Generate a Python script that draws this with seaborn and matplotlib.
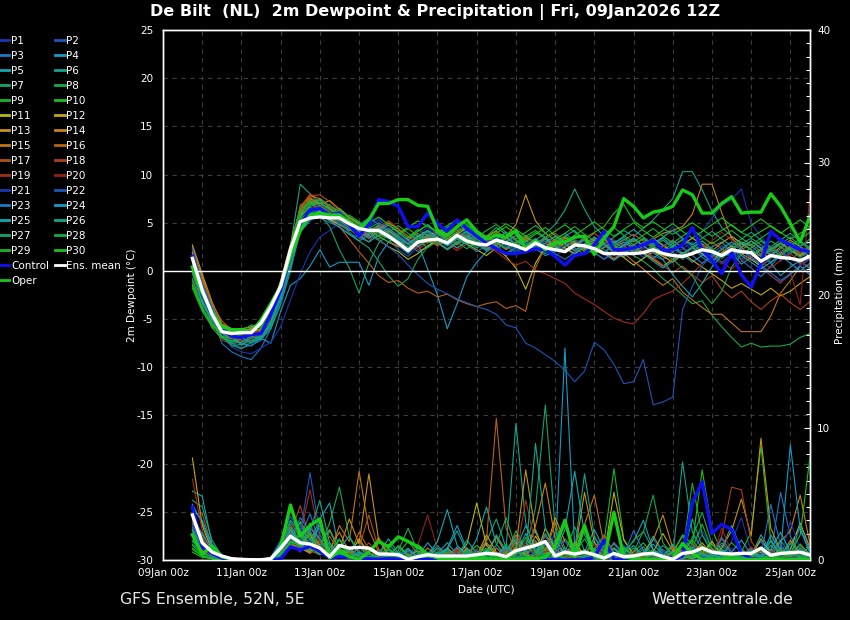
import matplotlib
matplotlib.use("Agg")
import matplotlib.pyplot as plt
from matplotlib.lines import Line2D
from matplotlib.ticker import MultipleLocator
import seaborn as sns
import pandas as pd

plt.rcParams['font.family'] = ['DejaVu Sans']
plt.rcParams['axes.unicode_minus'] = False

# ---------------- data ----------------
hours = [18, 24, 30, 36, 42, 48, 54, 60,
         66, 72, 78, 84, 90, 96, 102, 108,
         114, 120, 126, 132, 138, 144, 150, 156,
         162, 168, 174, 180, 186, 192, 198, 204,
         210, 216, 222, 228, 234, 240, 246, 252,
         258, 264, 270, 276, 282, 288, 294, 300,
         306, 312, 318, 324, 330, 336, 342, 348,
         354, 360, 366, 372, 378, 384, 390, 396]

tick_hours = [0, 24, 48, 72, 96, 120, 144, 168, 192, 216, 240, 264, 288, 312, 336, 360, 384]
tick_labels = ["09Jan 00z", "", "11Jan 00z", "", "13Jan 00z", "", "15Jan 00z", "",
               "17Jan 00z", "", "19Jan 00z", "", "21Jan 00z", "", "23Jan 00z", "", "25Jan 00z"]

member_names = ["P1", "P2", "P3", "P4", "P5", "P6", "P7", "P8", "P9", "P10",
                "P11", "P12", "P13", "P14", "P15", "P16", "P17", "P18", "P19", "P20",
                "P21", "P22", "P23", "P24", "P25", "P26", "P27", "P28", "P29", "P30"]
member_colors = ['#1b34b4', '#1b56bc', '#1b78c4', '#149cc8', '#12a8b2', '#12a48c', '#12a468', '#14aa46', '#16b628', '#18c218',
                 '#b8b814', '#c2a614', '#c49414', '#c48414', '#c07414', '#ba6214', '#b25014', '#ae3e18', '#a42c18', '#942018',
                 '#1b34b4', '#1b56bc', '#1b78c4', '#149cc8', '#12a8b2', '#12a48c', '#12a468', '#14aa46', '#16b628', '#18c218']

# 2m dewpoint (deg C), 6-hourly
dew_p01 = [2.0, -1.5, -4.2, -6.0, -6.8, -7.0, -6.5, -6.2, -4.5, -1.8, 1.5, 5.5,
           6.5, 6.8, 6.0, 5.2, 4.5, 3.8, 4.9, 5.5, 4.1, 3.0, 2.4, 3.5, 4.2, 3.8, 2.6, 3.9, 3.3, 2.5, 2.9,
           3.8, 3.0, 2.2, 2.6, 3.4, 2.0, 1.5, 2.4, 3.1, 2.8, 1.9, 1.2, 2.3, 3.0, 2.1, 1.4, 2.9, 3.5, 4.6, 3.2,
           2.0, 4.1, 5.5, 6.8, 7.4, 8.5, 4.9, 3.6, 2.2, 1.0, 1.8, 2.5, 1.9]
dew_p02 = [1.0, -2.4, -4.5, -6.2, -7.2, -6.8, -7.0, -6.6, -5.5, -3.0, 0.2, 4.0,
           5.2, 5.9, 6.3, 5.8, 5.0, 3.9, 3.4, 3.9, 3.3, 2.2, 1.5, 2.6, 3.0, 2.8, 3.4, 4.2, 3.6, 3.0, 2.4,
           2.9, 3.5, 2.8, 2.0, 2.5, 3.1, 2.7, 1.9, 2.4, 3.3, 2.9, 2.2, 1.6, 2.0, 2.6, 2.3, 1.5, 1.2, 2.0, 2.8,
           3.4, 2.6, 1.8, 0.9, 1.6, 2.4, 1.3, 0.4, -0.5, -1.2, -0.4, 0.6, 1.2]
dew_p03 = [2.6, -1.0, -4.8, -7.5, -8.4, -8.9, -9.2, -8.0, -6.0, -3.2, 1.0, 5.0,
           6.0, 5.5, 5.0, 4.6, 3.8, 3.5, 3.0, 4.5, 3.8, 3.2, 2.8, 2.0, 2.5, 3.1, 3.9, 4.4, 3.7, 3.2, 3.5,
           3.0, 2.4, 2.9, 3.6, 2.7, 2.1, 2.8, 2.3, 1.7, 2.5, 3.2, 2.6, 1.9, 1.5, 2.2, 3.0, 2.4, 1.8, 2.6, 3.3,
           2.5, 1.4, 0.8, 1.9, 2.7, 1.1, 0.3, -0.6, 0.5, 1.7, 2.4, 1.5, 2.2]
dew_p04 = [1.8, -1.8, -4.5, -6.4, -7.2, -7.5, -7.8, -7.0, -7.5, -4.2, -1.5, -0.8,
           0.5, 2.2, 0.4, 0.9, 0.9, 0.9, -1.5, 1.5, 3.0, 2.6, 1.8, 2.9, 0.2, -2.5, -6.0, -3.4, -0.6, 0.9, 2.0,
           2.6, 1.8, 2.5, 3.2, 2.3, 1.6, 2.0, 3.6, 4.2, 3.1, 2.4, 1.9, 2.8, 3.5, 2.7, 1.8, 1.3, 2.1, 2.9, 1.7,
           0.9, 1.6, 2.5, 3.0, 1.9, 0.7, 1.4, 2.2, 0.8, -0.5, 0.4, 1.1, 0.2]
dew_p05 = [1.5, -2.6, -4.1, -5.6, -6.0, -6.4, -5.9, -5.5, -4.2, -1.6, 2.0, 6.2,
           7.0, 7.5, 6.8, 6.2, 5.5, 4.8, 4.3, 4.6, 3.5, 2.7, 3.4, 4.1, 4.8, 3.9, 4.5, 5.1, 4.0, 3.4, 2.6,
           3.3, 4.0, 3.1, 2.5, 3.2, 2.8, 3.6, 2.9, 2.1, 2.6, 3.5, 2.9, 2.3, 3.0, 2.4, 1.9, 2.7, 3.4, 2.6, 1.8,
           2.4, 3.1, 2.2, 1.5, 2.3, 3.0, 2.6, 1.7, 2.3, 2.9, 2.1, 1.6, 2.5]
dew_p06 = [0.5, -3.0, -5.2, -6.8, -7.3, -7.0, -6.8, -6.9, -5.8, -2.6, 2.5, 9.0,
           8.0, 7.0, 6.4, 5.9, 4.6, 3.7, 4.4, 5.0, 4.2, 3.3, 2.9, 3.7, 3.1, 2.8, 3.6, 4.6, 3.9, 3.0, 3.6,
           4.5, 3.8, 3.2, 2.4, 3.0, 2.6, 3.3, 3.9, 3.1, 2.4, 2.0, 2.8, 3.5, 4.2, 3.6, 4.4, 5.3, 6.4, 7.5, 10.3,
           10.3, 8.4, 6.2, 4.5, 3.6, 2.8, 3.4, 2.7, 2.0, 2.8, 3.5, 2.6, 3.0]
dew_p07 = [1.2, -2.2, -4.6, -6.5, -7.8, -7.6, -7.0, -6.7, -5.1, -2.0, 0.8, 5.6,
           6.8, 7.3, 5.8, 5.1, 4.0, 3.1, 2.4, 1.0, -0.5, -1.6, -0.8, 1.2, 2.5, 3.4, 2.9, 3.6, 4.1, 3.5, 2.8,
           2.2, 1.6, 2.4, 3.1, 2.5, 1.8, 2.6, 3.2, 2.4, 1.7, 2.3, 2.9, 2.2, 1.5, 2.1, 2.8, 3.4, 2.6, 1.9, 1.2,
           2.0, 2.7, 1.9, 1.3, 2.1, 2.8, 2.2, 1.5, 0.9, 1.8, 2.5, 1.7, 2.4]
dew_p08 = [0.0, -3.2, -5.4, -6.9, -7.4, -7.1, -6.6, -6.8, -5.3, -2.3, 1.2, 5.2,
           6.2, 6.5, 5.6, 5.0, 4.3, 3.6, 4.0, 4.8, 3.9, 3.1, 2.5, 3.3, 4.0, 3.2, 2.6, 3.4, 3.0, 2.4, 2.9,
           3.5, 2.8, 2.1, 2.6, 3.3, 2.7, 2.0, 2.5, 3.1, 2.4, 1.8, 2.4, 3.0, 2.3, 1.6, 1.0, 0.2, -0.8, -1.6, -2.5,
           -3.4, -3.1, -4.6, -5.8, -6.9, -7.9, -7.5, -7.9, -7.8, -7.8, -7.6, -6.9, -6.5]
dew_p09 = [-0.8, -3.5, -5.0, -6.3, -6.2, -6.0, -6.1, -5.7, -4.0, -1.2, 2.3, 5.8,
           6.6, 6.0, 6.9, 5.7, 5.3, 4.6, 3.9, 4.4, 3.6, 2.8, 3.5, 4.3, 3.7, 3.1, 3.8, 4.2, 3.5, 2.9, 3.3,
           3.9, 3.2, 2.6, 3.3, 4.0, 3.4, 2.8, 3.5, 2.9, 2.2, 2.7, 3.4, 2.6, 2.0, 2.7, 3.3, 2.5, 1.9, 2.6, 3.2,
           2.8, 2.0, 1.4, 2.2, 3.0, 2.4, 1.6, 2.3, 3.1, 2.5, 1.8, 2.6, 3.3]
dew_p10 = [-1.6, -4.0, -5.6, -6.6, -6.9, -6.4, -6.0, -6.2, -4.6, -1.9, 1.6, 5.3,
           6.3, 6.7, 6.1, 6.5, 5.6, 5.0, 4.5, 3.9, 3.4, 3.9, 4.5, 5.2, 4.6, 4.0, 4.7, 5.3, 4.8, 4.1, 3.6,
           4.2, 4.9, 4.3, 3.6, 4.2, 3.5, 4.1, 4.8, 4.0, 3.4, 4.0, 4.6, 6.0, 6.9, 5.2, 4.5, 5.1, 4.4, 3.8, 4.4,
           5.0, 4.3, 3.6, 4.2, 4.8, 4.0, 3.5, 4.1, 4.7, 4.0, 3.3, 3.9, 4.5]
dew_p11 = [0.3, -2.9, -4.4, -6.1, -6.6, -6.9, -6.4, -6.0, -4.8, -2.2, 1.0, 4.6,
           5.8, 6.2, 5.4, 4.8, 4.2, 4.5, 3.7, 3.2, 2.5, 2.0, 1.2, 1.8, 2.6, 3.2, 2.7, 3.3, 2.8, 2.2, 1.6,
           2.4, 1.5, 0.3, -1.9, 0.8, 2.5, 3.1, 2.4, 1.8, 2.6, 3.3, 2.7, 2.0, 1.4, 0.6, 1.3, 2.0, 1.5, 0.9, 1.7,
           2.4, 1.8, 1.1, 1.9, 2.6, 1.8, 1.2, 0.5, 1.3, 2.0, 1.4, 0.8, 1.5]
dew_p12 = [2.2, -0.6, -3.6, -5.8, -6.3, -6.0, -5.8, -5.4, -4.4, -1.9, 1.4, 5.8,
           7.2, 6.1, 5.3, 4.8, 5.5, 4.9, 4.2, 3.6, 4.2, 3.5, 2.9, 3.6, 4.2, 3.5, 2.9, 3.8, 4.5, 3.8, 3.1,
           2.6, 3.4, 4.0, 3.2, 2.6, 3.3, 2.5, 1.9, 2.6, 3.3, 2.5, 1.8, 1.2, 1.9, 2.6, 1.9, 1.2, 0.5, 1.2, 1.9,
           1.1, 0.4, -0.3, -1.0, -1.8, -1.3, -1.9, -2.5, -1.8, -2.6, -2.1, -1.3, -0.6]
dew_p13 = [2.7, -0.3, -3.2, -5.5, -6.0, -6.3, -6.0, -5.6, -4.0, -1.0, 2.8, 6.5,
           7.8, 7.5, 6.6, 6.0, 5.1, 4.4, 3.6, 4.3, 5.0, 4.3, 3.6, 2.8, 3.5, 4.1, 3.4, 2.7, 3.5, 4.2, 3.5,
           2.9, 3.6, 4.8, 7.9, 5.2, 3.9, 3.2, 2.6, 3.3, 2.5, 1.8, 2.5, 3.2, 2.6, 1.9, 2.6, 3.3, 2.7, 2.0, 2.7,
           3.4, 2.8, 2.1, 2.9, 3.6, 2.9, 2.2, 1.5, 2.2, 2.9, 2.2, 1.6, 2.3]
dew_p14 = [1.9, -1.2, -3.9, -6.0, -6.6, -6.2, -6.5, -6.1, -4.5, -1.4, 2.1, 6.0,
           7.5, 6.9, 7.3, 6.4, 5.6, 4.8, 4.1, 3.6, 3.0, 2.5, 3.2, 3.9, 3.3, 2.6, 3.3, 4.0, 3.4, 2.8, 3.5,
           4.1, 3.4, 2.8, 3.5, 2.9, 2.3, 3.0, 3.6, 3.0, 2.3, 3.0, 3.7, 3.1, 2.5, 3.2, 2.6, 3.3, 3.9, 4.2, 4.6,
           5.9, 9.0, 9.0, 6.0, 3.4, 2.5, 3.1, 2.4, 1.7, 2.5, 3.2, 2.5, 1.8]
dew_p15 = [1.4, -1.9, -4.3, -6.2, -7.0, -7.4, -6.9, -6.4, -5.0, -2.1, 1.9, 6.8,
           7.6, 7.0, 6.2, 5.4, 4.7, 3.4, 4.0, 4.7, 3.9, 3.0, 2.2, 2.9, 3.6, 2.9, 2.2, 2.9, 3.6, 3.0, 2.3,
           2.9, 2.2, 2.9, 3.5, 2.8, 2.1, 2.8, 3.4, 2.7, 2.0, 2.7, 3.3, 2.5, 1.8, 1.0, 0.2, -0.7, -1.5, -0.8, -2.2,
           -3.0, -3.8, -4.5, -4.5, -5.4, -6.3, -6.3, -6.3, -4.7, -2.3, -1.0, 0.5, -0.4]
dew_p16 = [2.4, -0.9, -3.4, -5.2, -6.1, -6.4, -6.7, -6.0, -4.3, -1.5, 2.4, 6.3,
           7.4, 6.6, 5.2, 4.6, 3.3, 2.0, 0.8, -0.5, -1.2, -1.0, -1.8, -2.3, -2.1, -2.7, -2.4, -3.0, -3.4, -3.7, -3.4,
           -3.2, -3.9, -3.6, -4.2, 0.3, 2.6, 3.3, 2.7, 2.1, 2.8, 3.4, 2.7, 2.0, 2.7, 3.3, 2.6, 1.9, 2.5, 3.1, 2.4,
           1.7, 2.4, 3.0, 2.3, 1.5, 2.2, 2.8, 2.0, 1.3, 2.0, 2.6, 1.9, 1.2]
dew_p17 = [0.8, -2.7, -4.8, -6.4, -6.9, -7.2, -7.3, -6.9, -5.6, -2.8, 0.6, 5.9,
           7.8, 7.9, 7.2, 6.3, 5.4, 4.5, 3.8, 4.5, 5.2, 4.4, 3.6, 2.9, 3.7, 4.4, 3.6, 2.8, 3.5, 4.1, 3.4,
           2.7, 3.4, 4.0, 3.3, 2.6, 3.3, 3.9, 3.2, 2.5, 3.2, 3.9, 3.2, 2.5, 3.2, 3.8, 3.1, 2.4, 1.7, 0.9, 1.6,
           2.4, 1.7, 1.0, 1.8, 2.5, 1.8, 1.1, 1.8, 2.5, 1.8, 1.2, 1.9, 2.6]
dew_p18 = [1.6, -2.0, -4.0, -6.0, -6.4, -6.6, -6.2, -6.3, -4.9, -1.7, 1.7, 6.6,
           8.0, 7.4, 6.7, 5.8, 5.1, 4.2, 3.5, 4.2, 3.5, 2.7, 2.0, 2.7, 3.4, 2.7, 3.5, 4.3, 3.6, 2.9, 2.2,
           2.9, 3.6, 2.8, 2.1, 2.8, 3.5, 2.8, 2.1, 2.8, 3.5, 2.7, 2.0, 1.3, 2.0, 2.8, 2.1, 1.4, 0.6, -0.2, 0.5,
           -0.4, -1.2, -0.5, -1.9, -2.8, -2.1, -3.2, -4.0, -3.1, -2.4, -3.3, -4.0, -3.2]
dew_p19 = [-1.2, -3.8, -5.7, -7.2, -7.6, -7.3, -6.9, -6.6, -5.2, -2.4, 1.1, 5.4,
           6.9, 6.3, 5.8, 5.1, 4.4, 3.7, 3.0, 3.7, 4.4, 3.6, 2.9, 2.2, 2.9, 3.6, 2.8, 2.1, 2.8, 3.4, 2.6,
           2.0, 1.2, 0.6, 1.0, 0.1, -0.3, -0.8, -1.3, -2.3, -2.9, -3.5, -4.2, -4.9, -5.3, -5.5, -4.4, -3.0, -2.5, -2.1, -1.3,
           -0.3, 0.8, 1.6, 0.9, 0.2, 1.0, 1.7, 1.0, 0.3, 1.1, 1.8, 1.0, 0.4]
dew_p20 = [-0.4, -3.4, -5.3, -6.7, -7.1, -6.7, -6.4, -6.5, -5.0, -2.0, 1.4, 5.0,
           6.4, 6.9, 6.2, 5.5, 4.8, 4.1, 3.3, 4.0, 4.7, 3.9, 3.1, 2.4, 3.1, 3.8, 3.0, 2.3, 3.0, 3.7, 2.9,
           2.2, 2.9, 3.6, 2.8, 2.1, 2.8, 3.5, 2.7, 2.0, 2.7, 3.4, 2.6, 1.9, 2.6, 3.3, 2.5, 1.8, 2.5, 3.2, 2.4,
           1.7, 2.4, 3.1, 4.0, 3.2, 2.3, 1.5, 0.6, -0.5, -1.3, -0.2, -3.5, 8.0]
dew_p21 = [1.1, -2.1, -4.4, -6.6, -7.9, -8.4, -8.6, -8.0, -7.4, -5.8, -3.0, -0.3,
           2.0, 3.5, 4.2, 5.0, 4.6, 3.9, 4.6, 5.3, 4.5, 3.7, 3.0, 3.8, 4.5, 3.7, 3.0, 3.6, 4.3, 3.5, 2.8,
           3.5, 2.8, 2.1, 2.8, 3.4, 2.7, 2.0, 2.7, 3.3, 2.6, 1.9, 2.6, 3.2, 2.5, 1.8, 2.4, 3.1, 2.3, 1.6, 2.3,
           3.0, 2.2, 1.5, 0.7, 1.4, 2.2, 1.4, 0.6, 1.3, 2.1, 1.3, 0.6, 1.4]
dew_p22 = [2.3, -1.3, -3.8, -5.9, -6.5, -7.1, -6.7, -6.4, -4.8, -2.0, 1.3, 5.1,
           6.1, 5.6, 6.4, 5.9, 5.2, 4.5, 3.8, 3.2, 2.5, 1.7, 0.6, -0.4, -1.3, -1.9, -2.4, -2.9, -3.3, -3.7, -4.0,
           -4.5, -5.6, -5.9, -7.5, -8.0, -8.7, -9.4, -10.3, -11.5, -10.4, -7.4, -8.2, -9.7, -11.7, -11.5, -9.2, -13.9, -13.6, -13.1, -4.0,
           -1.6, 0.5, 1.8, 2.6, 1.9, 1.2, 2.0, 2.7, 1.9, 1.2, 2.0, 2.6, 1.8]
dew_p23 = [0.6, -2.5, -4.7, -6.3, -7.5, -8.0, -7.7, -7.2, -5.7, -2.7, 0.9, 4.5,
           5.7, 6.3, 5.6, 4.9, 4.2, 4.8, 5.5, 4.8, 4.1, 3.4, 2.7, 3.4, 4.1, 3.3, 2.6, 3.3, 2.7, 2.0, 2.6,
           3.3, 2.6, 1.9, 2.5, 3.2, 2.5, 1.8, 1.2, 1.9, 2.6, 1.9, 1.2, 1.9, 2.6, 3.3, 2.6, 1.9, 2.6, 3.2, 2.4,
           1.6, 0.8, 1.5, 2.3, 3.0, 2.2, 1.4, 0.6, -0.2, -1.0, -0.3, 0.5, -0.4]
dew_p24 = [1.3, -1.7, -4.0, -5.7, -6.2, -6.9, -7.5, -7.0, -5.4, -2.9, 0.4, 4.1,
           5.3, 5.9, 5.2, 4.5, 3.8, 3.1, 3.8, 4.5, 3.7, 3.0, 2.3, 3.0, 3.7, 3.0, 2.2, 2.9, 3.6, 2.8, 2.1,
           2.8, 3.5, 2.7, 2.0, 2.7, 3.4, 2.6, 1.9, 2.6, 3.3, 2.5, 1.8, 1.1, 1.8, 2.5, 1.8, 1.0, 0.3, 1.0, 1.8,
           2.5, 1.7, 1.0, 1.7, 2.4, 1.6, 0.9, 0.2, 0.9, 1.6, 0.8, 0.0, 0.8]
dew_p25 = [0.2, -3.1, -5.0, -6.4, -6.7, -7.7, -7.2, -6.8, -5.5, -2.2, 1.5, 5.7,
           6.7, 7.1, 6.4, 5.7, 4.9, 4.1, 3.4, 4.1, 4.8, 4.0, 3.2, 2.5, 3.2, 3.9, 3.1, 2.4, 3.1, 3.8, 3.0,
           2.3, 3.0, 3.7, 2.9, 2.2, 2.9, 3.6, 2.8, 2.1, 2.8, 3.5, 2.7, 2.0, 2.7, 3.4, 2.6, 1.9, 1.2, -0.4, -1.6,
           -2.7, -1.3, 0.4, 1.6, 1.7, 2.4, 3.1, 2.3, 1.6, 2.3, 3.0, 2.2, 1.5]
dew_p26 = [-0.2, -3.3, -5.4, -6.8, -7.5, -7.4, -6.8, -7.1, -6.0, -3.5, 0.0, 4.4,
           5.9, 6.6, 5.9, 5.2, 4.5, 3.7, 3.0, 3.7, 4.4, 3.6, 2.8, 3.5, 4.2, 3.4, 2.7, 3.4, 4.1, 3.3, 2.6,
           3.3, 4.0, 3.2, 2.5, 3.2, 3.9, 4.8, 6.3, 8.5, 6.4, 4.6, 3.6, 2.9, 3.6, 4.3, 3.5, 2.8, 3.5, 4.2, 3.4,
           2.7, 3.4, 4.1, 3.3, 2.6, 3.3, 4.0, 3.2, 2.5, 3.2, 3.9, 3.1, 2.4]
dew_p27 = [1.0, -2.3, -4.9, -6.9, -7.7, -8.1, -7.4, -6.9, -5.6, -2.5, 1.1, 5.1,
           6.4, 5.8, 4.6, 2.2, 0.3, -2.3, 0.8, 2.9, 3.8, 3.1, 2.4, 3.1, 3.8, 3.0, 2.3, 3.0, 3.7, 2.9, 2.2,
           2.9, 3.6, 2.8, 2.1, 2.8, 3.5, 2.7, 2.0, 2.7, 3.4, 2.6, 1.9, 2.6, 3.3, 2.5, 1.8, 2.5, 3.2, 2.4, 1.7,
           2.4, 3.1, 2.3, 1.6, 2.3, 3.0, 2.2, 1.5, 2.2, 2.9, 2.1, 1.4, 2.1]
dew_p28 = [-1.0, -3.7, -5.9, -7.0, -7.3, -6.8, -6.6, -6.4, -5.2, -2.0, 1.9, 6.0,
           7.1, 6.4, 5.7, 6.3, 5.5, 4.8, 4.0, 3.3, 4.0, 4.7, 3.9, 3.2, 2.4, 3.1, 3.8, 3.0, 2.3, 3.0, 3.7,
           3.0, 2.3, 3.0, 3.7, 2.9, 2.2, 2.9, 3.6, 2.8, 2.1, 2.8, 3.5, 2.7, 2.0, 2.7, 3.4, 2.6, 1.9, 1.2, 0.3,
           -0.5, -2.2, -3.4, -2.1, 0.4, 1.7, 2.4, 3.1, 2.3, 1.6, 2.3, 3.0, 2.2]
dew_p29 = [-1.8, -4.2, -5.8, -6.2, -6.5, -6.3, -5.6, -5.9, -4.4, -1.3, 2.6, 6.4,
           7.3, 6.8, 6.0, 5.2, 5.8, 5.1, 4.3, 3.6, 3.0, 3.7, 4.4, 3.6, 2.9, 3.6, 4.3, 3.5, 2.8, 3.5, 4.2,
           4.8, 4.0, 3.3, 4.0, 4.7, 3.9, 3.2, 3.9, 4.6, 3.8, 3.1, 3.8, 4.5, 3.7, 3.0, 3.7, 4.4, 3.6, 2.9, 3.6,
           4.3, 3.5, 2.8, 3.5, 4.2, 3.4, 2.7, 3.4, 4.1, 3.3, 2.6, 3.3, 4.0]
dew_p30 = [-1.4, -3.9, -5.5, -6.8, -7.0, -6.6, -6.2, -6.0, -4.7, -1.7, 1.8, 5.5,
           6.9, 7.4, 6.5, 5.8, 5.0, 4.3, 5.0, 5.6, 4.8, 4.1, 3.4, 4.1, 4.8, 4.0, 3.3, 4.0, 4.7, 3.9, 3.2,
           3.9, 4.6, 3.8, 3.1, 3.8, 4.5, 3.7, 3.0, 3.7, 4.4, 5.1, 4.3, 3.6, 4.3, 5.0, 4.2, 3.5, 4.2, 4.9, 4.1,
           3.4, 4.1, 4.8, 5.5, 4.7, 4.0, 4.7, 5.4, 4.6, 3.9, 4.6, 5.3, 4.5]

dew_control = [1.5, -2.5, -4.5, -6.0, -6.8, -6.9, -6.6, -6.5,
               -4.5, -2.0, 1.5, 4.8, 6.3, 6.5, 5.8, 6.0,
               4.8, 3.6, 4.8, 7.4, 7.2, 6.7, 4.6, 4.6,
               6.0, 4.9, 4.1, 5.3, 4.4, 3.6, 2.9, 2.3,
               1.8, 1.8, 2.0, 2.3, 2.2, 1.5, 0.6, 1.6,
               1.8, 2.7, 4.1, 2.2, 2.2, 2.4, 2.7, 3.2,
               2.1, 2.2, 2.7, 4.5, 2.2, 1.1, -0.3, 1.9,
               -0.4, -1.7, 0.8, 4.1, 3.2, 2.7, 2.2, 2.0]
dew_oper = [0.4, -2.3, -4.4, -5.8, -6.1, -6.1, -6.4, -5.1,
            -3.4, -1.6, 1.5, 4.2, 5.8, 6.0, 5.8, 5.8,
            5.1, 4.4, 5.3, 7.0, 7.0, 7.4, 7.4, 6.8,
            6.7, 4.2, 3.7, 4.6, 5.3, 4.1, 3.3, 3.7,
            3.5, 4.2, 2.3, 3.2, 2.2, 2.9, 3.0, 3.5,
            3.6, 1.7, 3.4, 4.6, 7.5, 6.7, 5.5, 6.1,
            6.3, 6.7, 8.4, 7.9, 6.0, 6.0, 7.0, 7.7,
            6.0, 6.1, 6.1, 8.0, 6.7, 4.9, 3.0, 5.7]
dew_mean = [1.3, -2.0, -4.5, -6.3, -6.5, -6.4, -6.4, -5.4,
            -3.7, -1.6, 2.2, 5.1, 5.5, 5.6, 5.5, 5.5,
            4.9, 4.4, 4.2, 4.2, 3.6, 2.9, 2.1, 3.0,
            3.2, 3.3, 2.9, 3.7, 3.1, 2.8, 2.7, 3.2,
            2.9, 2.6, 2.2, 2.9, 2.4, 2.2, 2.0, 2.7,
            2.6, 2.3, 1.8, 1.8, 1.8, 1.8, 1.9, 2.2,
            1.8, 1.6, 1.5, 1.8, 2.2, 2.0, 1.6, 2.2,
            2.0, 1.9, 1.0, 1.6, 1.4, 1.3, 1.1, 1.5]

# 6-hourly precipitation (mm)
prcp_p01 = [3.0, 1.6, 0.6, 0.2, 0, 0, 0, 0,
            0.1, 0.9, 2.4, 1.3, 2.0, 1.1, 0.4, 0.8,
            0.3, 0.5, 0.2, 0.1, 0, 0.2, 0.6, 0.1,
            0, 0, 0.3, 0.1, 0, 0.4, 1.2, 0.5,
            0.2, 1.8, 0.6, 0.1, 0.9, 0.3, 0, 0.2,
            0.7, 0.1, 0, 0.5, 1.1, 0.3, 0, 0,
            0.2, 0.8, 0.4, 1.5, 2.2, 0.9, 0.3, 1.4,
            3.2, 0.6, 0.2, 0, 0.4, 1.0, 0.3, 0.1]
prcp_p02 = [2.4, 1.1, 0.3, 0.1, 0, 0, 0, 0,
            0, 0.6, 1.8, 2.6, 1.5, 0.7, 0.2, 0.5,
            0.9, 0.3, 0.1, 0, 0.1, 0.4, 0.1, 0,
            0, 0.2, 0, 0.6, 0.3, 0.1, 0.8, 0.2,
            0, 0.4, 1.3, 0.5, 0.2, 2.1, 0.7, 0.1,
            0, 0.3, 0.9, 0.2, 0, 0, 0.4, 1.6,
            0.5, 0.1, 0, 0.6, 1.9, 0.8, 0.2, 0,
            0.3, 0.9, 0.4, 0.1, 0, 0.5, 1.2, 0.3]
prcp_p03 = [3.6, 1.3, 0.5, 0.1, 0, 0, 0, 0,
            0, 0.4, 2.9, 1.7, 3.5, 1.2, 0.6, 0.3,
            0.7, 1.4, 0.5, 0.2, 0, 0.3, 0.1, 0,
            0.2, 0.6, 0.1, 0, 0.3, 0.8, 0.2, 0.9,
            0.4, 0.1, 0.6, 1.5, 0.3, 0, 0.2, 0.7,
            0.1, 0, 0.5, 1.2, 0.4, 0.1, 0, 0.3,
            0.8, 0.2, 0.6, 0.1, 0, 0.4, 1.1, 0.3,
            0.2, 0.6, 1.4, 0.5, 5.1, 1.8, 0.4, 0.1]
prcp_p04 = [4.2, 2.8, 0.9, 0.3, 0, 0, 0, 0,
            0.2, 1.1, 2.2, 0.9, 1.6, 2.4, 0.8, 0.3,
            0.5, 0.2, 0.9, 0.3, 0.1, 0.6, 0.2, 0,
            0.4, 1.1, 0.3, 0.1, 0, 0.5, 0.2, 0.9,
            0.3, 1.4, 0.6, 2.3, 0.5, 0.2, 16.0, 0.9,
            0.3, 1.7, 0.6, 0.2, 0, 0.4, 1.0, 0.3,
            0.1, 0.7, 0.3, 1.2, 0.5, 0.2, 0.8, 0.4,
            0.1, 0, 0.6, 1.5, 0.4, 0.2, 0.9, 0.3]
prcp_p05 = [5.2, 4.8, 1.2, 0.4, 0, 0, 0, 0,
            0, 0.5, 1.9, 2.8, 1.4, 3.1, 4.3, 0.6,
            0.3, 1.0, 0.4, 0.1, 0, 0.2, 0.7, 0.3,
            0.1, 0.5, 1.3, 0.4, 0.2, 1.6, 4.0, 1.2,
            0.3, 0.8, 2.6, 0.9, 0.3, 1.5, 0.5, 0.2,
            0.6, 2.3, 0.8, 0.2, 0.4, 1.1, 0.3, 0,
            0.2, 0.6, 1.8, 0.7, 0.3, 0.1, 0.9, 2.6,
            0.8, 0.3, 1.9, 0.6, 0.2, 1.2, 2.4, 0.5]
prcp_p06 = [4.5, 4.0, 1.5, 0.3, 0, 0, 0, 0,
            0.1, 1.3, 3.0, 2.1, 1.2, 2.6, 1.1, 0.4,
            0.6, 0.2, 0.1, 0.5, 1.2, 0.4, 0.9, 0.2,
            0, 0.3, 0.8, 2.2, 0.6, 0.2, 1.4, 3.1,
            0.9, 10.3, 2.8, 0.7, 0.3, 1.2, 0.4, 0.1,
            0.5, 1.4, 0.3, 0, 0.2, 0.9, 0.4, 1.8,
            0.6, 0.3, 7.4, 2.1, 0.8, 0.4, 1.3, 0.5,
            0.2, 0.7, 0.3, 1.1, 0.4, 0.1, 0.6, 0.9]
prcp_p07 = [2.8, 1.9, 0.8, 0.2, 0, 0, 0, 0,
            0, 0.7, 2.1, 1.5, 2.8, 0.9, 0.5, 1.6,
            0.4, 0.1, 0.3, 0.8, 0.2, 0, 0.4, 1.2,
            0.5, 0.1, 0.7, 0.3, 0.9, 0.2, 0.6, 1.8,
            0.5, 2.2, 0.8, 3.9, 11.7, 2.4, 0.6, 0.3,
            0.2, 0.8, 1.9, 0.5, 0.1, 0.6, 2.2, 0.7,
            0.3, 0.1, 0.5, 1.7, 3.6, 1.2, 0.4, 0.2,
            0.8, 0.3, 0.1, 0.6, 1.5, 0.4, 0.2, 0.5]
prcp_p08 = [1.5, 0.6, 0.3, 0.1, 0, 0, 0, 0,
            0.1, 0.8, 1.6, 2.4, 0.9, 0.5, 1.3, 0.4,
            0.2, 0.6, 0.3, 0.1, 0.8, 0.3, 0.1, 0,
            0.3, 0.9, 0.2, 0.1, 0.5, 0.2, 0.8, 0.3,
            1.2, 0.4, 0.1, 0.6, 2.0, 0.7, 0.2, 0.5,
            1.6, 0.4, 0.1, 0.3, 1.0, 0.3, 0.1, 0.7,
            0.3, 1.1, 0.6, 5.8, 1.9, 0.5, 0.2, 0.1,
            0.4, 0.9, 0.3, 0.1, 0.6, 0.2, 0.1, 0.3]
prcp_p09 = [1.2, 0.5, 0.2, 0, 0, 0, 0, 0,
            0.2, 1.4, 2.7, 1.1, 0.6, 1.9, 0.8, 0.3,
            0.1, 0.4, 0.9, 0.3, 0.1, 0.5, 1.4, 0.5,
            0.2, 0.1, 0.6, 0.2, 0, 0.3, 0.7, 0.2,
            0.5, 1.3, 0.4, 0.2, 0.9, 0.3, 1.6, 0.6,
            0.2, 0.5, 1.4, 6.9, 1.6, 0.4, 0.2, 0.8,
            0.3, 0.1, 0.6, 1.5, 0.5, 0.2, 0.4, 1.3,
            0.6, 2.1, 8.6, 1.4, 0.5, 0.2, 0.9, 0.3]
prcp_p10 = [0.9, 0.3, 0.1, 0, 0, 0, 0, 0,
            0, 0.5, 1.5, 2.9, 1.8, 0.7, 0.4, 1.1,
            0.5, 0.2, 0.1, 0.4, 0.9, 0.3, 0.1, 0,
            0.2, 0.6, 0.3, 0.1, 0.4, 1.1, 0.5, 0.2,
            0.1, 0.5, 0.2, 1.4, 0.6, 0.3, 0.1, 0.4,
            0.8, 0.3, 0.1, 0.5, 0.2, 0.6, 1.3, 0.4,
            0.2, 0.5, 1.9, 1.2, 6.8, 2.3, 0.6, 0.2,
            0.1, 0.4, 0.9, 0.3, 0.1, 0.5, 0.2, 0.6]
prcp_p11 = [3.3, 1.4, 0.4, 0.1, 0, 0, 0, 0,
            0, 0.3, 1.2, 0.8, 2.0, 0.6, 0.3, 0.9,
            0.4, 1.6, 0.5, 0.2, 0.1, 0.5, 0.2, 0,
            0.1, 0.4, 0.9, 0.3, 1.2, 4.3, 1.1, 0.4,
            0.2, 0.7, 0.3, 1.8, 0.6, 0.2, 0.5, 1.3,
            0.4, 0.1, 0.3, 0.9, 0.3, 0.1, 0.6, 0.2,
            0, 0.3, 0.8, 0.2, 0.5, 1.4, 0.4, 0.1,
            0.3, 0.1, 0.6, 0.2, 0.9, 0.3, 0.1, 0.4]
prcp_p12 = [7.7, 2.6, 0.7, 0.2, 0, 0, 0, 0,
            0.2, 0.9, 1.7, 1.0, 0.6, 1.5, 0.5, 0.2,
            0.8, 0.3, 0.1, 0.6, 0.2, 0, 0.3, 0.7,
            0.3, 0.1, 0.4, 0.2, 0.8, 0.3, 1.9, 0.6,
            0.3, 1.0, 0.4, 0.2, 2.4, 0.8, 0.3, 1.1,
            0.4, 1.2, 0.3, 5.1, 1.5, 0.4, 0.2, 0.6,
            2.0, 0.7, 0.2, 0.5, 1.3, 0.4, 0.1, 0.3,
            0.7, 0.2, 1.6, 0.5, 0.2, 0.8, 2.8, 0.9]
prcp_p13 = [2.2, 0.9, 0.3, 0.1, 0, 0, 0, 0,
            0, 0.4, 1.3, 0.9, 0.5, 1.2, 2.3, 0.8,
            3.1, 1.2, 6.5, 1.5, 0.4, 0.2, 0.6, 0.3,
            0.1, 0.5, 0.2, 0.8, 0.3, 0.1, 1.3, 0.5,
            0.2, 0.9, 6.8, 2.1, 0.6, 3.2, 1.4, 0.5,
            5.1, 1.3, 0.4, 0.9, 0.3, 0.1, 0.5, 0.2,
            0.6, 0.2, 0.1, 0.4, 1.1, 0.3, 0.9, 2.2,
            4.6, 1.8, 9.2, 2.4, 0.7, 0.3, 0.1, 0.5]
prcp_p14 = [2.0, 0.7, 0.2, 0, 0, 0, 0, 0,
            0.1, 0.6, 1.9, 0.7, 1.1, 0.4, 0.9, 2.1,
            0.6, 0.2, 0.5, 1.7, 0.4, 0.1, 0.3, 0.2,
            0.9, 0.3, 0.1, 0.5, 0.2, 0.7, 0.3, 0.1,
            0.6, 1.9, 0.7, 2.6, 5.8, 1.6, 0.4, 0.9,
            0.3, 0.8, 0.2, 1.3, 0.5, 0.1, 0.6, 1.5,
            3.4, 0.9, 0.3, 0.1, 0.7, 0.3, 0.2, 0.6,
            0.4, 0.1, 0.8, 0.3, 1.4, 2.2, 4.9, 1.2]
prcp_p15 = [2.5, 1.2, 0.4, 0.1, 0, 0, 0, 0,
            0, 0.3, 1.1, 2.0, 0.8, 1.4, 0.5, 2.6,
            1.4, 6.7, 2.3, 0.6, 0.2, 0.1, 0.5, 0.2,
            0.3, 0.1, 0.4, 0.9, 0.3, 0.1, 0.6, 1.7,
            0.5, 0.2, 1.1, 0.4, 0.2, 0.8, 0.3, 1.2,
            2.7, 4.9, 1.1, 0.3, 0.1, 0.4, 0.2, 0.6,
            0.2, 0.5, 1.2, 0.4, 0.1, 0.3, 0.7, 0.2,
            0.1, 0.4, 0.2, 0.8, 0.3, 1.5, 0.5, 0.2]
prcp_p16 = [3.8, 1.7, 0.5, 0.2, 0, 0, 0, 0,
            0, 0.5, 1.4, 0.6, 2.2, 0.9, 0.4, 0.7,
            0.3, 2.1, 0.8, 0.2, 0.1, 0.4, 0.2, 0,
            0.2, 0.1, 0.5, 0.2, 0.9, 0.4, 1.5, 10.7,
            2.4, 0.6, 0.3, 1.3, 0.5, 2.8, 0.9, 0.3,
            0.1, 0.6, 0.3, 0.1, 0.8, 0.3, 0.1, 0.4,
            0.2, 1.0, 0.4, 0.1, 0.3, 0.9, 0.3, 0.1,
            0.5, 0.2, 0.7, 0.3, 0.1, 0.4, 1.1, 0.4]
prcp_p17 = [3.5, 3.5, 1.0, 0.3, 0, 0, 0, 0,
            0.1, 0.6, 2.4, 1.3, 0.7, 0.4, 1.8, 0.6,
            0.2, 0.9, 3.4, 0.8, 0.3, 0.1, 0.4, 0.2,
            0.1, 0.3, 0.1, 0.6, 0.2, 0.1, 0.5, 0.9,
            0.3, 1.5, 0.5, 0.2, 1.0, 0.4, 0.1, 0.6,
            0.3, 0.1, 1.9, 0.5, 0.2, 0.7, 0.3, 0.1,
            0.4, 0.2, 0.8, 0.3, 0.1, 0.5, 1.6, 0.6,
            0.2, 0.9, 0.3, 0.1, 0.4, 0.2, 0.6, 0.3]
prcp_p18 = [2.9, 1.5, 0.5, 0.1, 0, 0, 0, 0,
            0, 0.8, 2.0, 4.1, 1.6, 0.7, 0.3, 0.5,
            0.2, 0.5, 1.3, 0.4, 0.1, 0, 0.2, 0.1,
            0.4, 0.2, 0.1, 0.7, 0.3, 0.1, 0.4, 0.2,
            0.8, 0.3, 0.1, 0.5, 1.8, 0.6, 0.2, 0.4,
            0.1, 0.3, 0.9, 0.3, 0.1, 0.5, 0.2, 0.1,
            0.6, 0.2, 0.4, 1.2, 0.5, 0.3, 1.8, 5.5,
            5.3, 1.4, 0.4, 0.1, 0.6, 0.2, 0.1, 0.3]
prcp_p19 = [6.1, 2.2, 0.6, 0.2, 0, 0, 0, 0,
            0.1, 1.0, 2.6, 1.9, 5.3, 1.5, 0.6, 0.3,
            0.5, 0.2, 0.8, 0.3, 0.1, 0.4, 0.2, 0,
            0.2, 0.1, 0.3, 0.8, 0.3, 0.1, 0.2, 0.5,
            0.2, 0.1, 4.5, 1.2, 0.6, 0.7, 0.3, 0.1,
            0.2, 0.6, 0.2, 0.1, 0.3, 0.1, 0, 0.2,
            0.1, 0.3, 0.1, 0.5, 0.9, 0.3, 0.1, 0.4,
            0.2, 0.1, 0.3, 0.7, 0.2, 0.1, 0.4, 0.2]
prcp_p20 = [1.8, 0.8, 0.2, 0.1, 0, 0, 0, 0,
            0, 0.4, 1.5, 0.9, 2.7, 1.3, 0.5, 0.2,
            0.4, 0.1, 0.3, 0.6, 0.2, 0.1, 0.5, 1.1,
            3.4, 0.8, 0.3, 0.1, 0.4, 0.2, 0.1, 0.6,
            0.3, 0.1, 1.5, 0.5, 0.2, 0.7, 0.3, 0.1,
            0.4, 1.2, 0.4, 0.1, 0.3, 0.1, 0.5, 0.2,
            0.1, 0.4, 0.2, 0.8, 0.3, 0.1, 2.4, 0.6,
            0.3, 1.0, 0.3, 0.1, 0.5, 0.2, 0.1, 0.4]
prcp_p21 = [2.6, 1.0, 0.3, 0.1, 0, 0, 0, 0,
            0, 0.2, 1.1, 2.3, 1.4, 0.8, 0.3, 0.6,
            0.2, 0.7, 0.3, 0.1, 0, 0.2, 0.6, 0.2,
            0.1, 0.3, 0.1, 0.5, 0.2, 0.8, 0.3, 0.1,
            0.4, 0.2, 0.9, 0.3, 0.1, 0.6, 1.4, 0.4,
            0.2, 0.1, 0.5, 0.2, 0.7, 0.3, 0.1, 0.3,
            0.6, 0.2, 1.3, 0.5, 0.2, 0.1, 0.4, 0.9,
            0.3, 0.1, 0.5, 0.2, 0.1, 2.9, 0.8, 0.3]
prcp_p22 = [2.1, 0.9, 0.4, 0.1, 0, 0, 0, 0,
            0.2, 1.5, 3.3, 2.0, 6.6, 1.9, 0.7, 0.4,
            0.3, 0.1, 0.2, 0.5, 0.2, 0.1, 0, 0.1,
            0.2, 0.1, 0, 0.3, 0.1, 0, 0.2, 0.1,
            0, 0.1, 0.3, 0.1, 0, 0.2, 0.1, 0,
            0.1, 0, 0.2, 0.1, 0, 0.1, 0, 0.1,
            0, 0.2, 0.5, 0.9, 0.3, 0.6, 0.2, 0.1,
            0.4, 0.2, 0.1, 0.5, 1.1, 0.3, 0.1, 0.2]
prcp_p23 = [2.7, 1.2, 0.5, 0.1, 0, 0, 0, 0,
            0.1, 0.9, 1.4, 3.2, 2.1, 0.6, 1.0, 0.4,
            0.2, 0.5, 0.2, 0.1, 0.7, 0.3, 0.1, 0.4,
            0.1, 0.6, 0.2, 1.0, 0.3, 0.1, 0.5, 0.2,
            0.9, 0.3, 0.1, 0.6, 1.9, 0.5, 0.2, 0.8,
            0.3, 0.1, 0.4, 1.3, 0.4, 2.2, 0.7, 0.2,
            0.1, 0.5, 0.2, 0.8, 0.3, 0.1, 1.7, 0.5,
            0.2, 0.8, 0.3, 4.2, 1.1, 0.3, 2.6, 0.7]
prcp_p24 = [3.1, 2.0, 0.7, 0.2, 0, 0, 0, 0,
            0, 0.5, 1.7, 1.0, 2.4, 1.6, 0.5, 0.9,
            1.8, 0.6, 0.2, 0.1, 0.4, 0.2, 0.8, 0.3,
            1.3, 0.4, 0.9, 2.6, 0.8, 0.3, 0.1, 0.5,
            0.2, 0.7, 0.3, 0.1, 1.2, 0.4, 0.9, 0.3,
            0.2, 0.9, 0.3, 0.1, 0.6, 1.4, 3.0, 0.8,
            0.3, 0.1, 0.6, 0.2, 0.9, 0.4, 0.2, 0.6,
            1.5, 0.4, 0.2, 1.9, 0.7, 8.7, 2.3, 0.6]
prcp_p25 = [3.9, 3.0, 1.1, 0.3, 0, 0, 0, 0,
            0.1, 0.7, 2.3, 1.2, 0.7, 2.9, 0.6, 0.3,
            0.8, 0.3, 0.1, 0.5, 1.6, 0.5, 0.2, 0.9,
            0.4, 1.4, 3.8, 1.1, 0.4, 0.2, 0.7, 0.3,
            1.0, 0.4, 2.0, 0.6, 1.4, 0.5, 2.3, 6.7,
            1.9, 0.6, 0.2, 0.8, 0.3, 0.1, 0.5, 1.2,
            0.4, 0.1, 0.3, 1.0, 0.4, 0.2, 0.7, 0.3,
            0.1, 0.5, 0.2, 0.8, 2.1, 0.6, 0.2, 0.4]
prcp_p26 = [2.3, 1.0, 0.3, 0.1, 0, 0, 0, 0,
            0.2, 1.2, 2.5, 1.4, 2.2, 4.5, 1.3, 0.5,
            0.2, 0.6, 0.2, 0.1, 0.3, 1.0, 0.3, 0.1,
            0.5, 0.2, 0.8, 0.3, 1.5, 0.5, 0.2, 1.9,
            0.7, 1.6, 0.5, 8.8, 2.4, 1.1, 2.6, 0.8,
            6.5, 1.8, 0.5, 0.2, 0.9, 0.3, 0.1, 0.6,
            0.3, 1.2, 0.4, 0.1, 0.5, 0.2, 0.8, 0.3,
            0.1, 0.6, 0.2, 1.4, 0.5, 0.2, 0.9, 0.3]
prcp_p27 = [1.4, 0.6, 0.2, 0, 0, 0, 0, 0,
            0.1, 1.1, 1.8, 0.8, 1.3, 0.5, 2.2, 0.7,
            0.3, 0.1, 0.5, 0.2, 0.1, 0.7, 2.4, 0.6,
            0.2, 0.9, 0.3, 0.1, 0.6, 0.2, 0.4, 1.1,
            3.2, 0.9, 0.3, 1.2, 0.4, 0.1, 0.6, 2.5,
            0.7, 0.2, 1.1, 0.4, 0.1, 0.3, 0.8, 0.3,
            1.1, 0.4, 0.2, 3.1, 1.0, 0.3, 0.1, 0.5,
            0.2, 0.7, 0.3, 0.1, 0.4, 1.3, 0.4, 0.2]
prcp_p28 = [1.1, 0.4, 0.1, 0, 0, 0, 0, 0,
            0, 0.4, 1.2, 2.2, 1.6, 0.9, 2.8, 5.5,
            1.7, 0.5, 0.2, 0.1, 0.4, 0.2, 0.1, 0.5,
            0.2, 0.1, 0.4, 0.2, 0.7, 0.3, 0.1, 0.4,
            0.2, 0.6, 0.3, 0.1, 0.9, 0.4, 0.2, 1.0,
            0.4, 0.1, 0.3, 0.9, 0.4, 1.5, 2.1, 4.9,
            1.3, 0.4, 0.1, 0.3, 0.8, 0.3, 0.1, 0.2,
            0.6, 0.2, 0.1, 0.4, 0.2, 0.7, 0.3, 0.1]
prcp_p29 = [0.8, 0.3, 0.1, 0, 0, 0, 0, 0,
            0.1, 0.6, 1.0, 1.9, 0.9, 0.4, 0.7, 1.5,
            0.5, 0.2, 0.1, 0.3, 0.8, 0.3, 0.1, 0.2,
            0.6, 0.2, 0.1, 0.4, 0.2, 0.5, 0.9, 0.3,
            0.1, 0.4, 1.7, 0.6, 0.2, 0.1, 0.5, 0.2,
            0.3, 0.8, 0.3, 0.1, 0.5, 0.2, 0.1, 0.6,
            0.2, 0.1, 0.4, 0.9, 2.7, 0.8, 0.3, 0.1,
            0.4, 0.2, 0.1, 0.3, 0.8, 0.3, 1.2, 0.4]
prcp_p30 = [0.6, 0.2, 0.1, 0, 0, 0, 0, 0,
            0, 0.3, 1.4, 1.1, 2.0, 0.7, 0.3, 0.9,
            0.3, 0.1, 0.2, 0.6, 0.2, 1.1, 0.4, 0.1,
            0.2, 0.5, 0.2, 0.1, 0.3, 0.1, 0.4, 0.2,
            0.5, 0.2, 0.1, 0.4, 1.3, 0.4, 0.1, 0.3,
            0.6, 0.2, 0.1, 0.3, 0.9, 0.3, 0.1, 0.4,
            0.2, 0.6, 0.2, 0.1, 0.5, 1.2, 0.4, 0.2,
            0.1, 0.3, 0.8, 0.3, 0.1, 0.5, 1.9, 7.8]

prcp_control = [4.0, 1.0, 0.5, 0.15, 0.05, 0, 0, 0,
                0, 0.1, 1.0, 0.75, 1.05, 0.65, 0.15, 0.25,
                0.2, 0.1, 0.1, 0.05, 0.1, 0.05, 0, 0,
                0.05, 0, 0, 0.05, 0, 0, 0.05, 0,
                0, 0.05, 0, 0, 0.05, 0, 0, 0,
                0, 0.2, 1.5, 0.05, 0, 0, 0.05, 0,
                0, 0.05, 0.3, 4.3, 5.9, 2.0, 2.7, 2.3,
                0.5, 0.1, 0.05, 0, 0.05, 0.05, 0, 0.05]
prcp_oper = [1.9, 0.45, 1.05, 0.25, 0.05, 0, 0, 0,
             0, 1.0, 4.15, 1.8, 2.6, 3.1, 0.15, 0.65,
             0.25, 0.05, 0.6, 1.4, 1.0, 1.75, 1.4, 1.0,
             0.4, 0.15, 0.05, 0.05, 0.05, 0.1, 0.1, 0.05,
             0.1, 0.05, 0.1, 0.1, 0.2, 1.0, 3.0, 0.25,
             2.6, 0.25, 0.1, 3.6, 0.25, 0.1, 0.05, 0.05,
             0.05, 0.1, 1.25, 0.5, 0.05, 0.05, 0.05, 0.05,
             0.05, 0.05, 0.05, 0.05, 0.05, 0.05, 0.05, 0.05]
prcp_mean = [3.4, 1.3, 0.6, 0.3, 0.1, 0.05, 0.02, 0.02,
             0.1, 0.9, 1.8, 1.3, 1.2, 0.9, 0.25, 1.1,
             0.9, 0.95, 0.9, 0.45, 0.45, 0.4, 0.05, 0.25,
             0.4, 0.3, 0.3, 0.3, 0.3, 0.4, 0.5, 0.45,
             0.25, 0.7, 0.9, 1.1, 1.4, 0.3, 0.6, 0.45,
             0.6, 0.4, 0.15, 0.5, 0.25, 0.3, 0.45, 0.5,
             0.25, 0.05, 0.5, 0.6, 0.9, 0.6, 0.5, 0.45,
             0.5, 0.5, 0.9, 0.35, 0.5, 0.55, 0.6, 0.38]

member_dew = [dew_p01, dew_p02, dew_p03, dew_p04, dew_p05, dew_p06, dew_p07, dew_p08, dew_p09, dew_p10,
              dew_p11, dew_p12, dew_p13, dew_p14, dew_p15, dew_p16, dew_p17, dew_p18, dew_p19, dew_p20,
              dew_p21, dew_p22, dew_p23, dew_p24, dew_p25, dew_p26, dew_p27, dew_p28, dew_p29, dew_p30]
member_prcp = [prcp_p01, prcp_p02, prcp_p03, prcp_p04, prcp_p05, prcp_p06, prcp_p07, prcp_p08, prcp_p09, prcp_p10,
               prcp_p11, prcp_p12, prcp_p13, prcp_p14, prcp_p15, prcp_p16, prcp_p17, prcp_p18, prcp_p19, prcp_p20,
               prcp_p21, prcp_p22, prcp_p23, prcp_p24, prcp_p25, prcp_p26, prcp_p27, prcp_p28, prcp_p29, prcp_p30]

CONTROL_COLOR = '#1010f4'
OPER_COLOR = '#16cc16'
GRID_COLOR = '#3c3c3a'
TXT = 'white'

# ---------------- table ----------------
records = []
for name, dew, pr in zip(member_names, member_dew, member_prcp):
    for h, d, p in zip(hours, dew, pr):
        records.append((name, h, d, p))
df = pd.DataFrame(records, columns=["member", "hour", "dew", "prcp"])
palette = dict(zip(member_names, member_colors))

# ---------------- figure ----------------
W, H = 850, 620
fig = plt.figure(figsize=(W / 100, H / 100), dpi=100, facecolor='black')
ax = fig.add_axes([163 / W, 60 / H, 647 / W, 530 / H])
ax.set_facecolor('black')
ax2 = ax.twinx()

ax.axhline(0, color='white', linewidth=1.0, zorder=2.7)

sns.lineplot(data=df, x="hour", y="dew", hue="member", palette=palette, hue_order=member_names,
             estimator=None, sort=False, linewidth=0.8, legend=False, ax=ax, zorder=2)
sns.lineplot(x=hours, y=dew_control, color=CONTROL_COLOR, linewidth=2.4, ax=ax, zorder=3)
sns.lineplot(x=hours, y=dew_oper, color=OPER_COLOR, linewidth=2.4, ax=ax, zorder=3)
sns.lineplot(x=hours, y=dew_mean, color='white', linewidth=2.4, ax=ax, zorder=3)

sns.lineplot(data=df, x="hour", y="prcp", hue="member", palette=palette, hue_order=member_names,
             estimator=None, sort=False, linewidth=0.8, legend=False, ax=ax2, zorder=2)
sns.lineplot(x=hours, y=prcp_control, color=CONTROL_COLOR, linewidth=2.4, ax=ax2, zorder=3)
sns.lineplot(x=hours, y=prcp_oper, color=OPER_COLOR, linewidth=2.4, ax=ax2, zorder=3)
sns.lineplot(x=hours, y=prcp_mean, color='white', linewidth=2.4, ax=ax2, zorder=3)

# axes setup
ax.set_xlim(0, 396)
ax.set_ylim(-30, 25)
ax2.set_ylim(0, 40)
ax.set_xlabel('')
ax.set_ylabel('')
ax2.set_ylabel('')

ax.set_xticks(tick_hours)
ax.set_xticklabels(tick_labels)
ax.set_yticks([-30, -25, -20, -15, -10, -5, 0, 5, 10, 15, 20, 25])
ax.grid(True, color=GRID_COLOR, linestyle=(0, (4, 4)), linewidth=0.8)
ax.tick_params(axis='x', length=0, pad=6, labelsize=7.5, colors=TXT)
ax.tick_params(axis='y', length=0, pad=7, labelsize=7.5, colors=TXT)

ax2.set_yticks([0, 10, 20, 30, 40])
ax2.yaxis.set_minor_locator(MultipleLocator(1))
ax2.tick_params(axis='y', which='major', direction='in', length=4, width=0.8, colors=TXT,
                labelsize=7.5, pad=5)
ax2.tick_params(axis='y', which='minor', direction='in', length=3, width=0.8, colors=TXT)

for a in (ax, ax2):
    for s in a.spines.values():
        s.set_color('white')
        s.set_linewidth(1.0)

# texts
fig.text(435 / W, 1 - 12 / H, "De Bilt  (NL)  2m Dewpoint & Precipitation | Fri, 09Jan2026 12Z",
         ha='center', va='center', color=TXT, fontsize=11.5, fontweight='bold')
fig.text(486.5 / W, 1 - 589 / H, "Date (UTC)", ha='center', va='center', color=TXT, fontsize=7.5)
fig.text(132 / W, 1 - 295 / H, "2m Dewpoint (°C)", ha='center', va='center', rotation=90,
         color=TXT, fontsize=7.5)
fig.text(840 / W, 1 - 295 / H, "Precipitation (mm)", ha='center', va='center', rotation=90,
         color=TXT, fontsize=7.5)
fig.text(120 / W, 1 - 599 / H, "GFS Ensemble, 52N, 5E", ha='left', va='center', color='#e6e6e6',
         fontsize=11.3)
fig.text(793 / W, 1 - 599 / H, "Wetterzentrale.de", ha='right', va='center', color='#e6e6e6',
         fontsize=11.3)

# legend (row-wise order in two columns)
col1 = [(member_names[i], member_colors[i]) for i in range(0, 30, 2)] + [("Control", CONTROL_COLOR), ("Oper", OPER_COLOR)]
col2 = [(member_names[i], member_colors[i]) for i in range(1, 30, 2)] + [("Ens. mean", 'white')]
entries = col1 + col2
handles = [Line2D([0], [0], color=c, linewidth=2.0) for _, c in entries]
labels = [n for n, _ in entries]
fig.legend(handles, labels, loc='upper left', bbox_to_anchor=(0.0, 1 - 36 / H), ncol=2,
           frameon=False, fontsize=7.5, labelcolor=TXT, handlelength=0.9, handletextpad=0.15,
           columnspacing=0.6, labelspacing=0.48, borderaxespad=0.0, borderpad=0.0)

fig.savefig("out.png", dpi=100, facecolor='black')
